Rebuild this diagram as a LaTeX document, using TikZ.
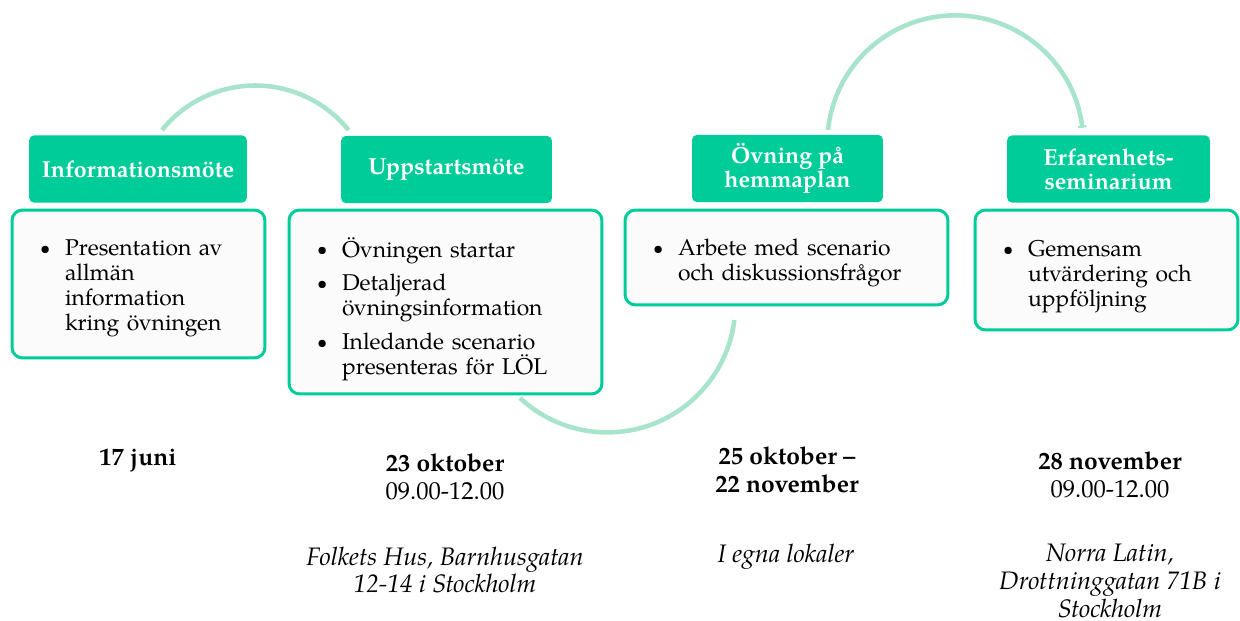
\documentclass[tikz,border=0pt]{standalone}
\usepackage{fontspec}
\setmainfont{texgyrepagella}[Extension=.otf, UprightFont=*-regular, BoldFont=*-bold, ItalicFont=*-italic, BoldItalicFont=*-bolditalic]
\usetikzlibrary{arrows.meta}

\definecolor{gruen}{HTML}{00CC99}
\definecolor{hellgruen}{HTML}{A8E4CC}
\definecolor{fastvit}{HTML}{FBFBFB}

% punkt: symbol och en parbox med raderna
\newcommand{\punkt}[1]{\par\noindent\makebox[0.54cm][l]{\hspace{0.04cm}\raisebox{0.6pt}{\scalebox{0.8}{\textbullet}}}%
	\parbox[t]{\dimexpr\hsize-0.54cm\relax}{#1}}

\tikzset{
	rubrik/.style={fill=gruen, text=white, rounded corners=3pt, inner sep=0pt,
		minimum height=1.35cm, align=center, font=\bfseries\fontsize{13.2}{13.5}\selectfont},
	ruta/.style={draw=gruen, line width=1.7pt, fill=fastvit, rounded corners=6pt,
		inner xsep=0.52cm, inner ysep=0pt, align=left, font=\fontsize{13}{14.2}\selectfont,
		execute at begin node={\setlength{\parskip}{5pt}}},
	datum/.style={align=center, font=\fontsize{14}{15.6}\selectfont},
	plats/.style={align=center, font=\itshape\fontsize{14.4}{15.8}\selectfont},
	bage/.style={draw=hellgruen, line width=2.6pt}
}

\begin{document}
\begin{tikzpicture}[x=0.02cm, y=-0.02cm]
	\useasboundingbox (0,0) rectangle (1240,621);

	% bagar bakom rutorna
	\coordinate (b1) at (162,130);
	\coordinate (b2) at (520,398);
	\coordinate (b3) at (828,130);
	\draw[bage] (b1) arc[start angle=219, end angle=321, radius=120];
	\draw[bage] (b2) arc[start angle=133, end angle=7, radius=128];
	\draw[bage, -{Bar[width=5pt, line width=1.2pt]}] (b3) arc[start angle=186, end angle=353, radius=128];

	% rubriker
	\node[rubrik, minimum width=4.36cm] (r1) at (138,169) {Informationsmöte};
	\node[rubrik, minimum width=4.22cm] (r2) at (446.5,169.5) {Uppstartsmöte};
	\node[rubrik, minimum width=3.82cm] (r3) at (787.5,168.5) {Övning på\\hemmaplan};
	\node[rubrik, minimum width=4.06cm] (r4) at (1108.5,169) {Erfarenhets-\\seminarium};

	% rutor
	\node[ruta, text width=4.02cm, minimum height=2.96cm] (i1) at (138.5,284)
		{\vspace*{-5.5pt}\punkt{Presentation av\\allmän\\information\\kring övningen}};
	\node[ruta, text width=5.22cm, minimum height=3.68cm] (i2) at (445.5,302)
		{\punkt{Övningen startar}
		\punkt{Detaljerad\\övningsinformation}
		\punkt{Inledande scenario\\presenteras för LÖL}};
	\node[ruta, text width=5.42cm, minimum height=1.9cm] (i3) at (786.5,257.5)
		{\vspace*{-3.4pt}\punkt{Arbete med scenario\\och diskussionsfrågor}};
	\node[ruta, text width=4.22cm, minimum height=2.4cm] (i4) at (1106.5,270)
		{\vspace*{-2.3pt}\punkt{Gemensam\\utvärdering och\\uppföljning}};

	% datum och platser
	\node[datum] (d1) at (138,461) {\textbf{17 juni}};
	\node[datum] (d2) at (445,477) {\textbf{23 oktober}\\09.00-12.00};
	\node[datum] (d3) at (787,470) {\textbf{25 oktober –}\\\textbf{22 november}};
	\node[datum] (d4) at (1110,475) {\textbf{28 november}\\09.00-12.00};
	\node[plats] (p2) at (445,570) {Folkets Hus, Barnhusgatan\\12-14 i Stockholm};
	\node[plats] (p3) at (786,557) {I egna lokaler};
	\node[plats] (p4) at (1110,581) {Norra Latin,\\Drottninggatan 71B i\\Stockholm};
\end{tikzpicture}
\end{document}
